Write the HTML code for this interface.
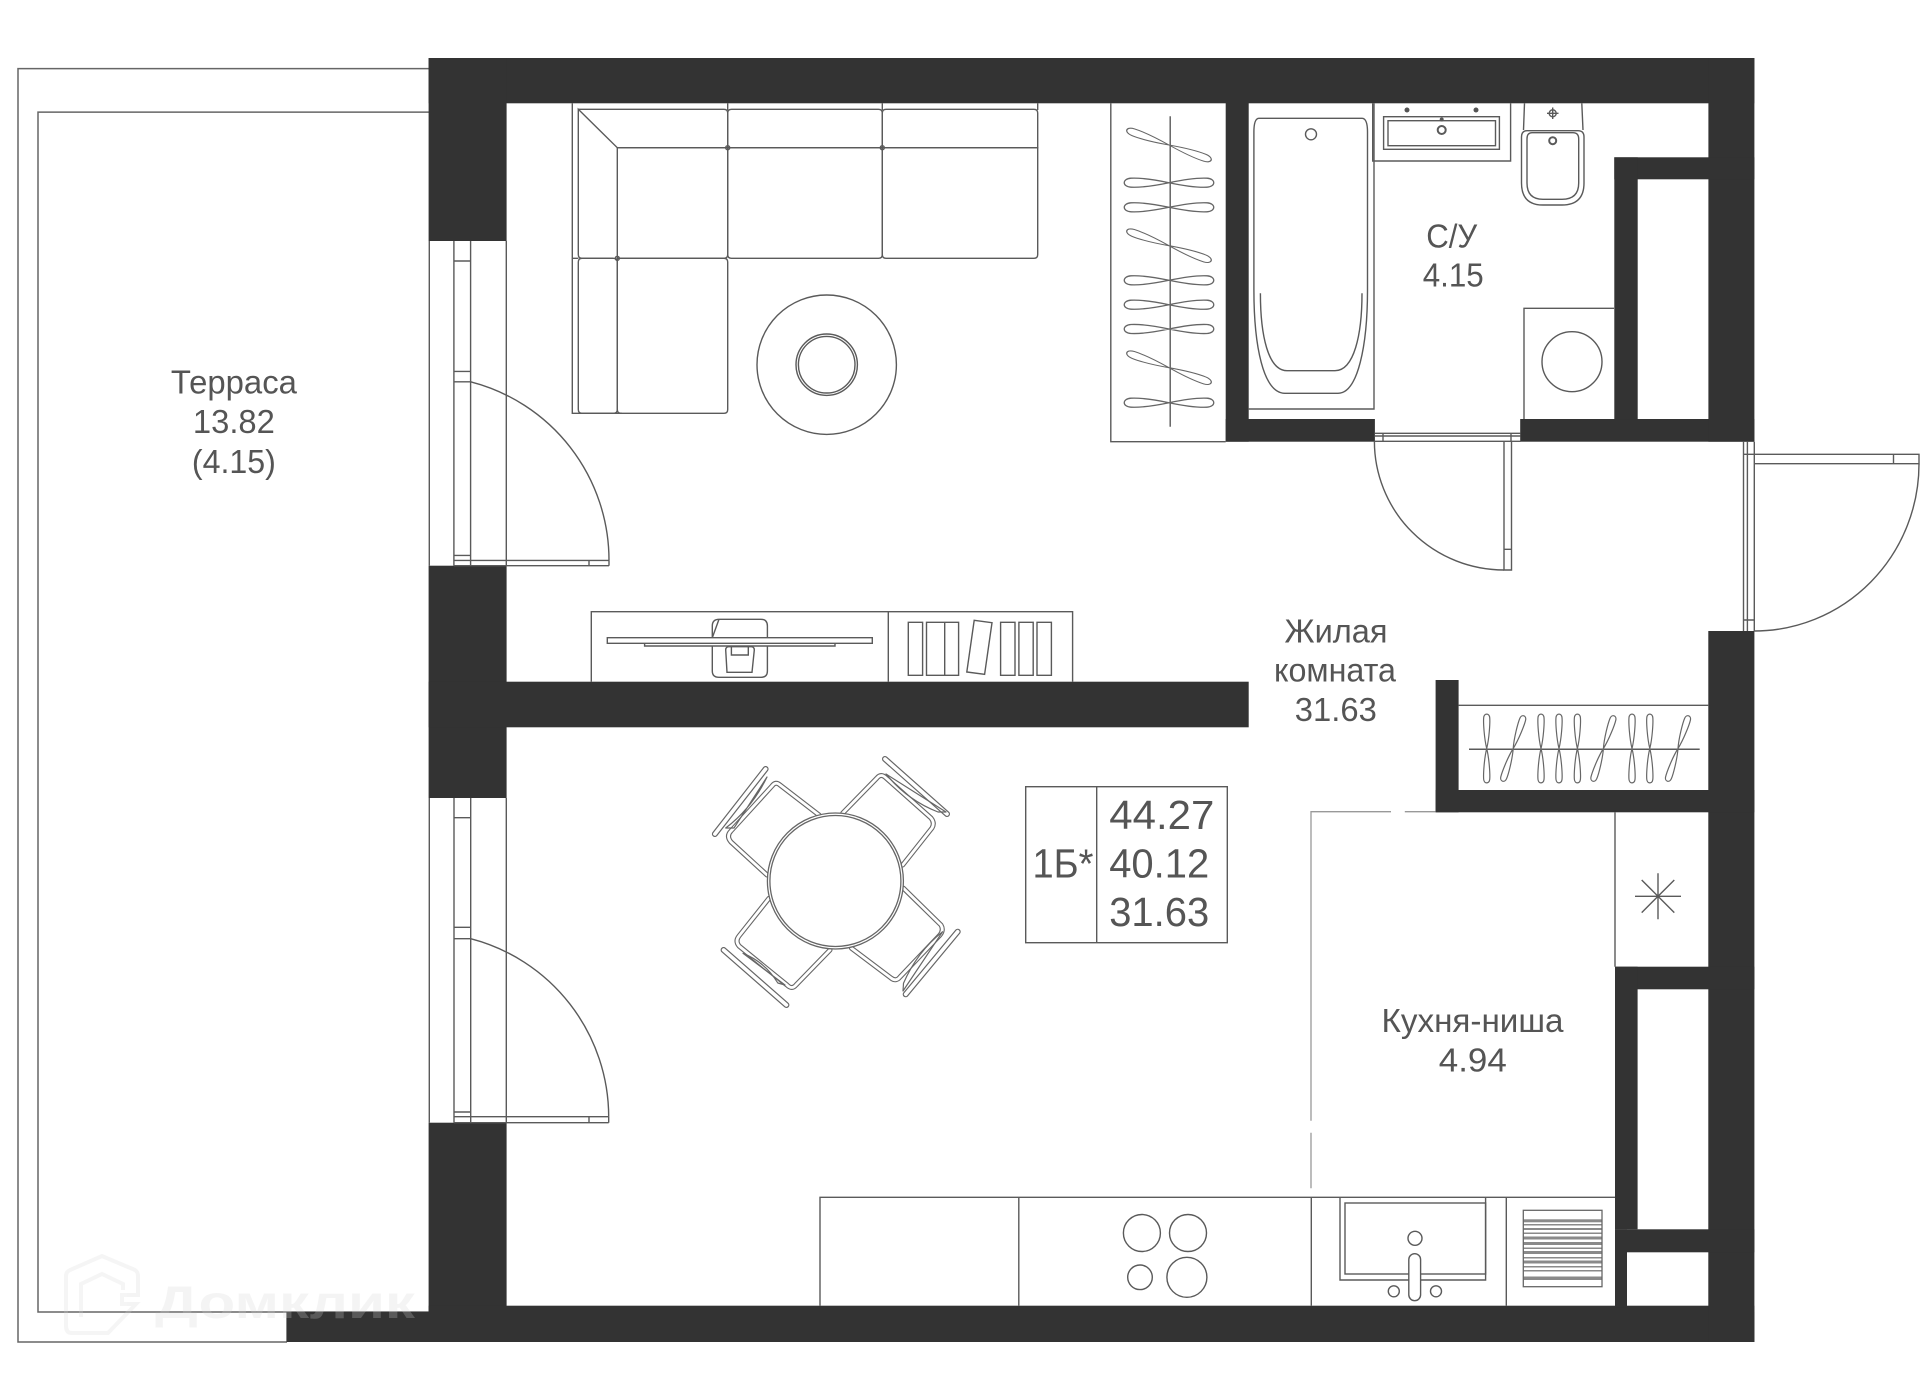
<!DOCTYPE html>
<html lang="ru"><head><meta charset="utf-8"><title>Планировка</title>
<style>html,body{margin:0;padding:0;background:#fff}svg{display:block}text{font-family:"Liberation Sans",sans-serif;fill:#555;text-anchor:middle}</style></head>
<body>
<svg xmlns="http://www.w3.org/2000/svg" width="1920" height="1386" viewBox="0 0 1920 1386">
<defs>
<path id="h" d="M0 0C12-3 28-6.500-38 0" fill="none"/>
<path id="hh" d="M0 0C12-2.500 28-5 38-4.500C47-4 47 4 38 4.500C28 5 12 2.500 0 0C-12-2.500-28-5-38-4.500C-47-4-47 4-38 4.500C-28 5-12 2.500 0 0Z" fill="none" stroke="#666" stroke-width="1.300"/>
<path id="v" d="M0 0C-2.500-10-3.500-26-3-31C-2.500-35.500 2.500-35.500 3-31C3.500-26 2.500-10 0 0C-2.500 10-3.500 26-3 31C-2.500 35.500 2.500 35.500 3 31C3.500 26 2.500 10 0 0Z" fill="none" stroke="#666" stroke-width="1.200"/>
</defs>
<rect width="1920" height="1386" fill="#fff"/>

<!-- terrace -->
<g fill="none" stroke="#666" stroke-width="1.500">
<path d="M429 68.600H18V1342H287"/>
<path d="M429 112.100H38V1312H429"/>
</g>

<!-- walls -->
<g fill="#333">
<rect x="428.600" y="58" width="1325.800" height="45.300"/>
<rect x="428.600" y="58" width="78" height="183"/>
<rect x="428.600" y="565.700" width="78" height="232.300"/>
<rect x="428.600" y="1122.700" width="78" height="219.300"/>
<rect x="428.600" y="681.700" width="820.100" height="45.600"/>
<rect x="286.400" y="1312" width="1468" height="30"/>
<rect x="428.600" y="1305.700" width="1325.800" height="36.300"/>
<rect x="1225.700" y="103" width="23" height="338.700"/>
<rect x="1225.700" y="419" width="149.200" height="22.700"/>
<rect x="1520.200" y="419" width="234.200" height="22.700"/>
<rect x="1708.400" y="58" width="46" height="383.700"/>
<rect x="1614.300" y="157.300" width="140.100" height="22"/>
<rect x="1614.300" y="157.300" width="23.400" height="262"/>
<rect x="1708.300" y="631" width="46.100" height="711"/>
<rect x="1435.600" y="680" width="23" height="132.300"/>
<rect x="1435.600" y="790" width="318.800" height="22.300"/>
<rect x="1615" y="966.700" width="139.400" height="22.600"/>
<rect x="1615" y="966.700" width="22.600" height="262.600"/>
<rect x="1615" y="1229.300" width="139.400" height="23"/>
<rect x="1615" y="1229.300" width="12" height="78"/>
</g>

<g fill="none" stroke="#5a5a5a" stroke-width="1.400">
<!-- window 1 -->
<path d="M429.300 241V565.700M453.900 241V565.700M470.600 241V565.700M506.300 241V565.700"/>
<path d="M453.900 261H470.600M453.900 371.400H470.600M453.900 381.800H470.600M453.900 555.400H470.600M453.900 560.400H609M453.900 565.700H609M609 560.400V565.700M589 560.400V565.700"/>
<path d="M470.600 381.800A184.400 184.400 0 0 1 609 560.400"/>
<!-- window 2 -->
<path d="M429.300 798V1122.700M454 798V1122.700M470.700 798V1122.700M506.300 798V1122.700"/>
<path d="M454 817.700H470.700M454 927.300H470.700M454 938.700H470.700M454 1112H470.700M454 1116.700H608.700M454 1122.700H608.700M608.700 1116.700V1122.700M589 1116.700V1122.700"/>
<path d="M470.700 938.700A184.400 184.400 0 0 1 608.700 1116.700"/>

<!-- sofa -->
<path d="M572.300 103.300V413.300H622M572.300 258.300H578.300"/>
<path d="M727.700 103.300V110M882.300 103.300V110M1037.700 103.300V110"/>
<path d="M578.300 109.300H724Q727.700 109.300 727.700 113V147.700H617.300L578.300 109.300V254.500Q578.300 258.300 582 258.300H613.300"/>
<path d="M727.700 113Q727.700 109.300 731.500 109.300H878.500Q882.300 109.300 882.300 113V147.700H727.700Z"/>
<path d="M882.300 113Q882.300 109.300 886 109.300H1034Q1037.700 109.300 1037.700 113V147.700H882.300Z"/>
<path d="M617.300 147.700H727.700V254.500Q727.700 258.300 724 258.300H617.300Z"/>
<path d="M727.700 147.700H882.300V254.500Q882.300 258.300 878.500 258.300H731.500Q727.700 258.300 727.700 254.500Z"/>
<path d="M882.300 147.700H1037.700V254.500Q1037.700 258.300 1034 258.300H886Q882.300 258.300 882.300 254.500Z"/>
<path d="M578.300 262Q578.300 258.300 582 258.300H613.500Q617.300 258.300 617.300 262V409.500Q617.300 413.300 613.500 413.300H582Q578.300 413.300 578.300 409.500Z"/>
<path d="M617.300 258.300H724Q727.700 258.300 727.700 262V409.500Q727.700 413.300 724 413.300H621Q617.300 413.300 617.300 409.500Z"/>
<circle cx="727.700" cy="147.700" r="2"/><circle cx="882.300" cy="147.700" r="2"/><circle cx="617.300" cy="258.300" r="2"/>
<circle cx="826.700" cy="364.700" r="69.700"/>
<circle cx="826.700" cy="364.700" r="30.700"/>
<circle cx="826.700" cy="364.700" r="28.300"/>

<!-- wardrobe 1 -->
<path d="M1110.800 103.300V441.700H1225.700"/>
<path d="M1170.200 116.300V426.700"/>

<!-- bath -->
<path d="M1248.700 409H1374V103.300"/>
<path d="M1259 118.300H1362Q1367.500 118.300 1367.500 132V290C1367.500 345 1358 393.300 1338 393.300H1285C1263 393.300 1253.900 345 1253.900 290V132Q1253.900 118.300 1259 118.300Z"/>
<path d="M1260.400 293.300C1260.400 335 1268 370.700 1287 370.700H1335C1354 370.700 1362 335 1362 293.300"/>
<circle cx="1311" cy="134.300" r="5.500"/>
<!-- bath sink -->
<path d="M1372.700 103.300V161H1510.600V103.300"/>
<rect x="1383.600" y="116.700" width="115.800" height="32.600"/>
<rect x="1388" y="120.700" width="107.500" height="25"/>
<circle cx="1441.700" cy="130" r="4" stroke-width="2"/>
<!-- toilet -->
<path d="M1524.500 103.300L1523.500 130M1581.800 103.300L1583 130"/>
<path d="M1527 130.700H1578Q1584 130.700 1584 137V183Q1584 205 1562 205H1543Q1521.500 205 1521.500 183V137Q1521.500 130.700 1527 130.700Z"/>
<path d="M1532 132.700H1573Q1578.700 132.700 1578.700 139V183Q1578.700 199.300 1562 199.300H1543Q1527 199.300 1527 183V139Q1527 132.700 1532 132.700Z"/>
<circle cx="1552.700" cy="140.700" r="3.500" stroke-width="2"/>
<circle cx="1552.700" cy="113.300" r="3.500"/>
<path d="M1552.700 107.500V119M1547 113.300H1558.500"/>
<!-- washing machine -->
<path d="M1524 419V308.300H1614"/>
<circle cx="1572" cy="361.700" r="30"/>

<!-- bathroom door -->
<path d="M1374.400 433.300H1520.600M1374.400 436H1520.600M1374.400 441.300H1520.600M1383 433.300V441.300M1511 433.300V441.300"/>
<path d="M1504 441.300V570H1511.500V441.300M1504 549.300H1511.500"/>
<path d="M1374.400 441.300A129.600 128.700 0 0 0 1504 570"/>

<!-- entrance door -->
<path d="M1743.500 441.700V631M1747.400 441.700V631M1754.300 441.700V631M1743.500 620H1754.300M1743.500 454.300H1754.300"/>
<path d="M1754.300 454.300H1919V463.700H1754.300M1893.500 454.300V463.700"/>
<path d="M1754.300 631A164.700 167.300 0 0 0 1919 463.700"/>

<!-- closet -->
<path d="M1458.600 705.300H1708.300"/>
<path d="M1469 749.300H1699.700" stroke-width="1.500"/>

<!-- TV unit -->
<path d="M591.300 681.700V611.700H1072.600V681.700M888.300 611.700V681.700"/>
<path d="M607.300 637.700H872.300V643.300H607.300ZM644.600 643.300V646H835V643.300"/>
<path d="M719 619.300H761Q767.400 619.300 767.400 626V637.700M767.400 646V671Q767.400 677.300 761 677.300H719Q712.300 677.300 712.300 671V646M712.300 637.700V626Q712.300 619.300 719 619.300Z"/>
<path d="M725.700 650Q725.700 646.700 729 646.700H751Q754.300 646.700 754.300 650L752 672.300H727Z"/>
<path d="M731.400 646.700V655H748.300V646.700"/>
<path d="M908.300 622.300H922.600V675.300H908.300ZM926.500 622.300H958.600V675.300H926.500ZM944.700 622.300V675.300M1000.600 622.300H1015V675.300H1000.600ZM1018.900 622.300H1033.200V675.300H1018.900ZM1037 622.300H1051.400V675.300H1037Z"/>
<path d="M974.200 620.300L992 622.700L984.600 674.300L966.800 672Z"/>

<!-- area box -->
<rect x="1025.700" y="786.700" width="201.600" height="156"/>
<path d="M1096.700 786.700V942.700"/>

<!-- kitchen -->
<path d="M820 1305.700V1197.300H1615M1018.800 1197.300V1305.700M1311.300 1197.300V1305.700M1506.300 1197.300V1305.700M1615 812.300V966.700"/>
<ellipse cx="1141.900" cy="1233" rx="18.500" ry="18.500"/>
<ellipse cx="1188" cy="1233" rx="18.500" ry="18.500"/>
<circle cx="1140" cy="1277.300" r="12.300"/>
<circle cx="1186.900" cy="1277.300" r="20"/>
<path d="M1340 1197.300V1280H1485.600V1197.300"/>
<rect x="1345" y="1203" width="140.600" height="71"/>
<circle cx="1415" cy="1238.300" r="7"/>
<rect x="1408.800" y="1253.700" width="11.800" height="47" rx="5.900" fill="#fff"/>
<circle cx="1393.800" cy="1291.300" r="5.500"/>
<circle cx="1436" cy="1291.300" r="5.500"/>
<path d="M1658 873.300V919.300M1635 896.300H1681M1641.700 880L1674.300 912.600M1674.300 880L1641.700 912.600"/>
</g>

<!-- small solids -->
<g fill="#555">
<circle cx="1407" cy="110" r="2.500"/><circle cx="1476" cy="110" r="2.500"/><circle cx="1441.700" cy="119.500" r="2"/>
</g>

<!-- hangers -->
<use href="#hh" transform="translate(1169 145) rotate(19.600) scale(1 .8)"/>
<use href="#hh" transform="translate(1169 182.700)"/>
<use href="#hh" transform="translate(1169 207.300)"/>
<use href="#hh" transform="translate(1169 245.700) rotate(19.600) scale(1 .8)"/>
<use href="#hh" transform="translate(1169 280.300)"/>
<use href="#hh" transform="translate(1169 304.700)"/>
<use href="#hh" transform="translate(1169 329)"/>
<use href="#hh" transform="translate(1169 367.700) rotate(19.600) scale(1 .8)"/>
<use href="#hh" transform="translate(1169 402.700)"/>
<use href="#v" transform="translate(1486.700 748.500)"/>
<use href="#v" transform="translate(1513.200 748.500) rotate(18)"/>
<use href="#v" transform="translate(1541 748.500)"/>
<use href="#v" transform="translate(1559 748.500)"/>
<use href="#v" transform="translate(1577.400 748.500)"/>
<use href="#v" transform="translate(1603.400 748.500) rotate(18)"/>
<use href="#v" transform="translate(1632 748.500)"/>
<use href="#v" transform="translate(1649.800 748.500)"/>
<use href="#v" transform="translate(1678 748.500) rotate(18)"/>

<!-- grille -->
<g fill="#8a8a8a">
<rect x="1523.300" y="1219.300" width="78.700" height="3"/>
<rect x="1523.300" y="1224" width="78.700" height="1.500"/><rect x="1523.300" y="1228" width="78.700" height="2"/>
<rect x="1523.300" y="1232.500" width="78.700" height="1.500"/><rect x="1523.300" y="1236.500" width="78.700" height="3"/>
<rect x="1523.300" y="1242" width="78.700" height="3"/><rect x="1523.300" y="1247.500" width="78.700" height="1.500"/>
<rect x="1523.300" y="1251" width="78.700" height="3"/><rect x="1523.300" y="1257" width="78.700" height="1.500"/>
<rect x="1523.300" y="1260.500" width="78.700" height="3"/><rect x="1523.300" y="1266" width="78.700" height="1.500"/>
<rect x="1523.300" y="1270" width="78.700" height="1.500"/><rect x="1523.300" y="1276.500" width="78.700" height="3.500"/>
</g>
<rect x="1523.300" y="1210.300" width="78.700" height="76.400" fill="none" stroke="#666" stroke-width="1.300"/>

<!-- kitchen boundary (dashed) -->
<path d="M1311 1188.300V1132.700M1311 1120.700V811.700H1391M1404.800 811.700H1435.600" fill="none" stroke="#999" stroke-width="1.300"/>

<!-- chairs -->
<g fill="none" stroke-linejoin="round" stroke-linecap="round">
<g stroke="#666" stroke-width="5">
<path d="M819 815L780 785Q775.600 781 772 786L731 831Q726 836 731 842L767 875"/>
<path d="M842.800 813L877 778Q881 773 886 778L931 818Q935 823 932 828L902.700 865"/>
<path d="M903.500 888.300L941 925Q944 930 940 935L900 977Q896 982 891 978L851.500 948.300"/>
<path d="M769 898.300L739 936Q735 941 739 946L787 985Q792 990 796 985L830 950"/>
</g>
<g stroke="#666" stroke-width="6">
<path d="M765.600 769L714.900 834M885 759L947 814M957.700 931.700L905.700 994.300M723.600 950L786.400 1005"/>
</g>
<g stroke="#fff" stroke-width="2.800">
<path d="M819 815L780 785Q775.600 781 772 786L731 831Q726 836 731 842L767 875"/>
<path d="M842.800 813L877 778Q881 773 886 778L931 818Q935 823 932 828L902.700 865"/>
<path d="M903.500 888.300L941 925Q944 930 940 935L900 977Q896 982 891 978L851.500 948.300"/>
<path d="M769 898.300L739 936Q735 941 739 946L787 985Q792 990 796 985L830 950"/>
</g>
<g stroke="#fff" stroke-width="3.600">
<path d="M765.600 769L714.900 834M885 759L947 814M957.700 931.700L905.700 994.300M723.600 950L786.400 1005"/>
</g>
<g stroke="#666" stroke-width="1.200">
<path d="M767 777Q752 808 725.700 828H734ZM886 774Q907 800 938 812H946ZM942.600 931.700Q917 952 903.500 983.300L903 991ZM743 953.300Q765 962 777.800 983L785 985Z"/>
</g>
</g>
<circle cx="835.400" cy="881" r="68" fill="#fff" stroke="#666" stroke-width="1.300"/>
<circle cx="835.400" cy="881" r="65.500" fill="#fff" stroke="#666" stroke-width="1.300"/>

<!-- labels -->
<g font-size="33">
<text x="233.900" y="393.600" textLength="126" lengthAdjust="spacingAndGlyphs">Терраса</text>
<text x="233.900" y="432.900" textLength="82" lengthAdjust="spacingAndGlyphs">13.82</text>
<text x="233.900" y="472.900" textLength="84" lengthAdjust="spacingAndGlyphs">(4.15)</text>
<text x="1451.700" y="247.300" textLength="51" lengthAdjust="spacingAndGlyphs">С/У</text>
<text x="1453.200" y="286.700" textLength="61" lengthAdjust="spacingAndGlyphs">4.15</text>
<text x="1336" y="642.300" textLength="103" lengthAdjust="spacingAndGlyphs">Жилая</text>
<text x="1335" y="681.700" textLength="122" lengthAdjust="spacingAndGlyphs">комната</text>
<text x="1335.800" y="721" textLength="82" lengthAdjust="spacingAndGlyphs">31.63</text>
<text x="1472.500" y="1032" textLength="182" lengthAdjust="spacingAndGlyphs">Кухня-ниша</text>
<text x="1472.800" y="1071.500" textLength="68" lengthAdjust="spacingAndGlyphs">4.94</text>
</g>
<g font-size="41">
<text x="1063" y="877.700" textLength="61" lengthAdjust="spacingAndGlyphs">1Б*</text>
<text x="1161.800" y="829" textLength="105" lengthAdjust="spacingAndGlyphs">44.27</text>
<text x="1159.200" y="877.700" textLength="100" lengthAdjust="spacingAndGlyphs">40.12</text>
<text x="1159.200" y="926" textLength="100" lengthAdjust="spacingAndGlyphs">31.63</text>
</g>

<!-- watermark -->
<g opacity=".24">
<path d="M66 1326V1276Q66 1272 70 1270L102 1256L135 1270Q138 1272 138 1276V1295H122V1304L136 1304L108 1333H72Q66 1333 66 1326Z M81 1317V1284L102 1274L123 1284V1290" fill="none" stroke="#d5d5d5" stroke-width="4"/>
<text x="285" y="1318" font-size="46" font-weight="700" textLength="260" lengthAdjust="spacingAndGlyphs" style="fill:#d5d5d5">Домклик</text>
</g>
</svg>
</body></html>
